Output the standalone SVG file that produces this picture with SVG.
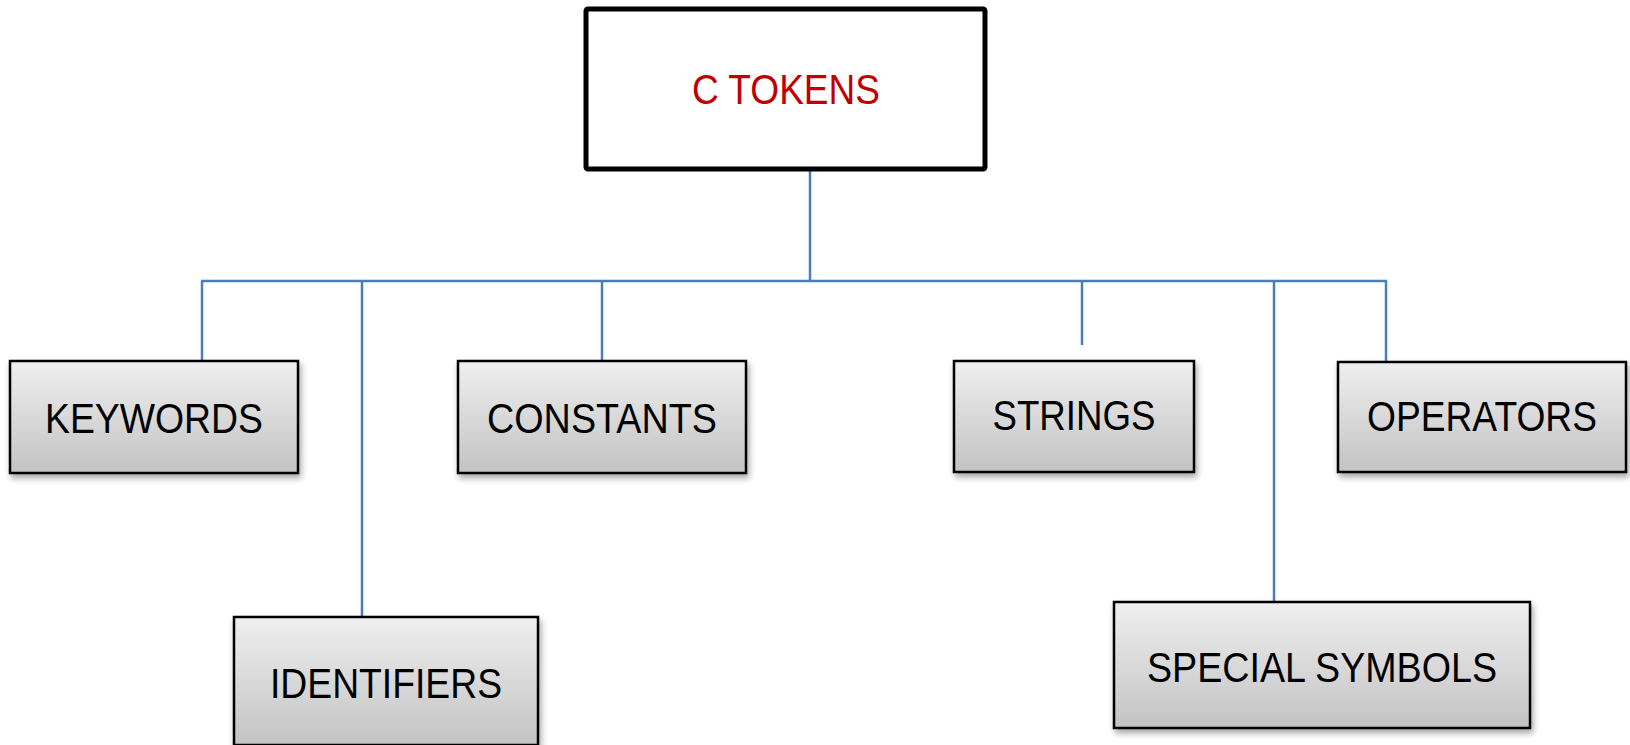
<svg xmlns="http://www.w3.org/2000/svg" width="1630" height="745" viewBox="0 0 1630 745">
  <style>
    .box { fill: url(#grad); stroke: #000; stroke-width: 2.5; filter: url(#shadow); }
    .lbl { font-family: "Liberation Sans", Arial, sans-serif; font-size: 42px; fill: #000; text-anchor: middle; }
    .conn { stroke: #4a7ebb; stroke-width: 2.5; fill: none; }
  </style>
  <defs>
    <linearGradient id="grad" x1="0" y1="0" x2="0" y2="1">
      <stop offset="0" stop-color="#efefef"/>
      <stop offset="1" stop-color="#c3c3c3"/>
    </linearGradient>
    <filter id="shadow" x="-10%" y="-10%" width="130%" height="140%">
      <feDropShadow dx="2" dy="4" stdDeviation="3" flood-color="#000" flood-opacity="0.35"/>
    </filter>
  </defs>
  <rect width="1630" height="745" fill="#fff"/>

  <g id="connectors">
    <line class="conn" x1="810" y1="171" x2="810" y2="281"/>
    <line class="conn" x1="201" y1="281" x2="1387" y2="281"/>
    <line class="conn" x1="202" y1="281" x2="202" y2="361"/>
    <line class="conn" x1="362" y1="281" x2="362" y2="617"/>
    <line class="conn" x1="602" y1="281" x2="602" y2="361"/>
    <line class="conn" x1="1082" y1="281" x2="1082" y2="345"/>
    <line class="conn" x1="1274" y1="281" x2="1274" y2="602"/>
    <line class="conn" x1="1386" y1="281" x2="1386" y2="362"/>
  </g>

  <g id="ctokens">
    <rect x="586" y="9" width="399" height="160" fill="#fff" stroke="#000" stroke-width="5" rx="2"/>
    <text x="786" y="104" font-family="Liberation Sans, Arial, sans-serif" font-size="42" fill="#c00000" text-anchor="middle" textLength="188" lengthAdjust="spacingAndGlyphs">C TOKENS</text>
  </g>

  <g id="keywords">
    <rect class="box" x="10" y="361" width="288" height="112"/>
    <text class="lbl" x="154" y="433" textLength="218" lengthAdjust="spacingAndGlyphs">KEYWORDS</text>
  </g>

  <g id="constants">
    <rect class="box" x="458" y="361" width="288" height="112"/>
    <text class="lbl" x="602" y="433" textLength="230" lengthAdjust="spacingAndGlyphs">CONSTANTS</text>
  </g>

  <g id="strings">
    <rect class="box" x="954" y="361" width="240" height="111"/>
    <text class="lbl" x="1074" y="430" textLength="163" lengthAdjust="spacingAndGlyphs">STRINGS</text>
  </g>

  <g id="operators">
    <rect class="box" x="1338" y="362" width="288" height="110"/>
    <text class="lbl" x="1482" y="431" textLength="230" lengthAdjust="spacingAndGlyphs">OPERATORS</text>
  </g>

  <g id="identifiers">
    <rect class="box" x="234" y="617" width="304" height="128"/>
    <text class="lbl" x="386" y="698" textLength="232" lengthAdjust="spacingAndGlyphs">IDENTIFIERS</text>
  </g>

  <g id="special-symbols">
    <rect class="box" x="1114" y="602" width="416" height="126"/>
    <text class="lbl" x="1322" y="682" textLength="350" lengthAdjust="spacingAndGlyphs">SPECIAL SYMBOLS</text>
  </g>
</svg>
